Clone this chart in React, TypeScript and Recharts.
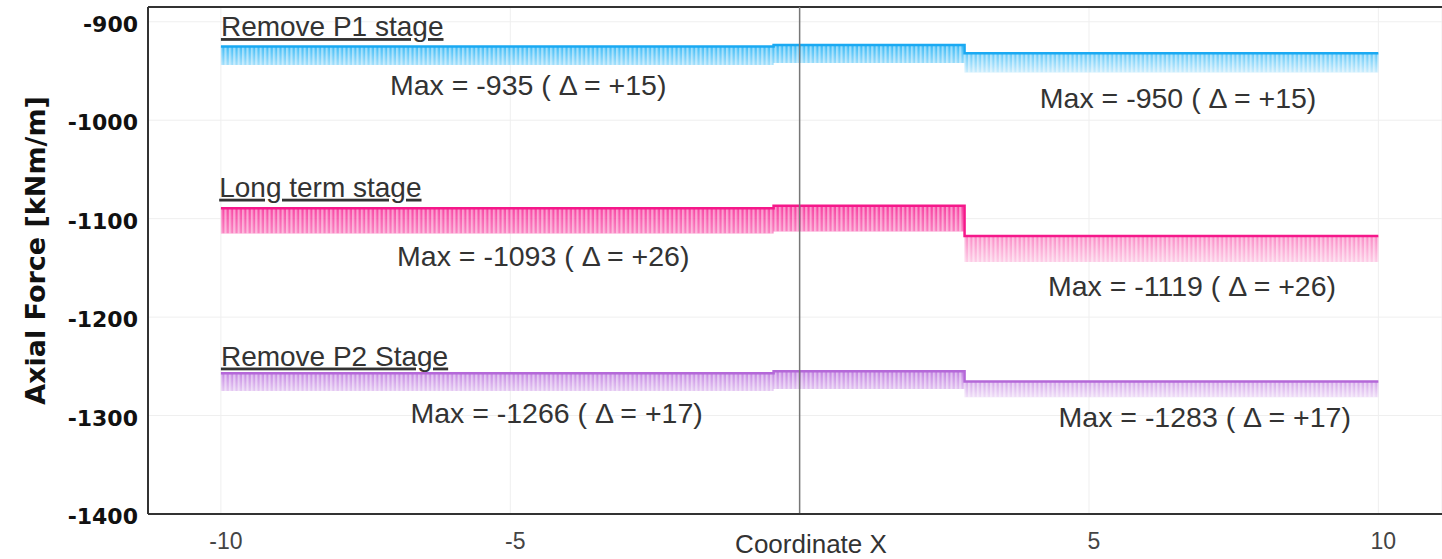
import React from 'react';
import {
  ComposedChart,
  Area,
  Line,
  XAxis,
  YAxis,
  CartesianGrid,
  ReferenceLine,
  ReferenceDot,
} from 'recharts';

// Step break points along the wall (Coordinate X)
const xBreaks = [-10, -0.45, 2.85, 10];

// Band top / bottom per segment (last value repeats for the step end)
const p1Top = [-925, -923.5, -932, -932];
const p1Bottom = [-944, -942, -951.5, -951.5];
const ltTop = [-1089.5, -1087, -1117.5, -1117.5];
const ltBottom = [-1115, -1113, -1144, -1144];
const p2Top = [-1257, -1255, -1265.5, -1265.5];
const p2Bottom = [-1275, -1273, -1281.5, -1281.5];

const stageNames = ['Remove P1 stage', 'Long term stage', 'Remove P2 Stage'];
const stageNameX = [-10, -10.03, -10];
const stageNameY = [-914.5, -1077.7, -1249.2];

const maxTexts = [
  'Max = -935 ( Δ = +15)',
  'Max = -950 ( Δ = +15)',
  'Max = -1093 ( Δ = +26)',
  'Max = -1119 ( Δ = +26)',
  'Max = -1266 ( Δ = +17)',
  'Max = -1283 ( Δ = +17)',
];
const maxTextX = [-4.69, 6.54, -4.43, 6.78, -4.2, 7.0];
const maxTextY = [-974.4, -987.6, -1148.1, -1178.6, -1307.6, -1311.7];

const xTicks = [-10, -5, 5, 10];
const yTicks = [-1400, -1300, -1200, -1100, -1000, -900];
const xDomain = [-11.26, 11.1];
const yDomain = [-1400, -885];

const chartData = xBreaks.map((x, i) => ({
  x,
  p1: [p1Bottom[i], p1Top[i]],
  p1Top: p1Top[i],
  lt: [ltBottom[i], ltTop[i]],
  ltTop: ltTop[i],
  p2: [p2Bottom[i], p2Top[i]],
  p2Top: p2Top[i],
}));

const series = [
  { key: 'p1', stroke: '#1aa9f2', fill: '#2db6f6', grad: 'gradP1' },
  { key: 'lt', stroke: '#f5188a', fill: '#f7369c', grad: 'gradLT' },
  { key: 'p2', stroke: '#b468d8', fill: '#c07ce0', grad: 'gradP2' },
];

const textFont = "'Liberation Sans', Arial, sans-serif";
const boldFont = "'DejaVu Sans', sans-serif";

const XTick = ({ x, y, payload }: any) => (
  <text
    x={x + 5}
    y={y + 21}
    textAnchor="middle"
    dominantBaseline="middle"
    fontFamily={textFont}
    fontSize={23}
    fill="#444"
  >
    {payload.value}
  </text>
);

const YTick = ({ x, y, payload }: any) => (
  <text
    x={x - 2}
    y={y + 4}
    textAnchor="end"
    dominantBaseline="middle"
    fontFamily={boldFont}
    fontWeight="bold"
    fontSize={22}
    fill="#111"
  >
    {payload.value}
  </text>
);

export default function App() {
  return (
    <div style={{ position: 'absolute', left: 0, top: 0, width: 1442, height: 559, background: '#fff' }}>
      <ComposedChart
        width={1442}
        height={559}
        data={chartData}
        margin={{ top: 7, right: 0, bottom: 0, left: 0 }}
      >
        <defs>
          {series.map((s) => (
            <linearGradient key={s.grad} id={s.grad} x1="0" y1="0" x2="0" y2="1">
              <stop offset="0%" stopColor={s.fill} stopOpacity={0.95} />
              <stop offset="100%" stopColor={s.fill} stopOpacity={0.25} />
            </linearGradient>
          ))}
          <pattern id="hatch" patternUnits="userSpaceOnUse" width={4.4} height={6}>
            <rect x={0} y={0} width={2.2} height={6} fill="#fff" fillOpacity={0.45} />
          </pattern>
        </defs>
        <CartesianGrid stroke="#efefef" strokeWidth={1} />
        <XAxis
          dataKey="x"
          type="number"
          domain={xDomain}
          ticks={xTicks}
          allowDataOverflow
          height={45}
          axisLine={{ stroke: '#333', strokeWidth: 2 }}
          tickLine={false}
          tick={<XTick />}
          label={{
            value: 'Coordinate X',
            position: 'insideBottom',
            dx: 16,
            offset: 6,
            style: { fontFamily: textFont, fontSize: 26, fill: '#333' },
          }}
        />
        <YAxis
          type="number"
          domain={yDomain}
          ticks={yTicks}
          allowDataOverflow
          width={148}
          axisLine={{ stroke: '#333', strokeWidth: 2 }}
          tickLine={false}
          tick={<YTick />}
          label={{
            value: 'Axial Force [kNm/m]',
            angle: -90,
            position: 'insideLeft',
            dx: 30,
            dy: -10,
            style: {
              fontFamily: boldFont,
              fontWeight: 'bold',
              fontSize: 27,
              fill: '#111',
              textAnchor: 'middle',
            },
          }}
        />
        <ReferenceLine y={yDomain[1]} stroke="#333" strokeWidth={2} ifOverflow="visible" />

        {series.map((s) => (
          <Area
            key={s.key + 'fill'}
            dataKey={s.key}
            type="stepAfter"
            stroke="none"
            fill={`url(#${s.grad})`}
            fillOpacity={1}
            isAnimationActive={false}
            activeDot={false}
          />
        ))}
        {series.map((s) => (
          <Area
            key={s.key + 'hatch'}
            dataKey={s.key}
            type="stepAfter"
            stroke="none"
            fill="url(#hatch)"
            fillOpacity={1}
            isAnimationActive={false}
            activeDot={false}
          />
        ))}
        {series.map((s) => (
          <Line
            key={s.key + 'top'}
            dataKey={s.key + 'Top'}
            type="stepAfter"
            stroke={s.stroke}
            strokeWidth={2.5}
            dot={false}
            activeDot={false}
            isAnimationActive={false}
          />
        ))}

        <ReferenceLine x={0} stroke="#777" strokeWidth={1.5} />

        {stageNames.map((name, i) => (
          <ReferenceDot
            key={name}
            x={stageNameX[i]}
            y={stageNameY[i]}
            r={0}
            shape={(p: any) => (
              <text
                x={p.cx}
                y={p.cy}
                textAnchor="start"
                fontFamily={textFont}
                fontSize={28}
                fill="#333"
                textDecoration="underline"
              >
                {name}
              </text>
            )}
          />
        ))}
        {maxTexts.map((t, i) => (
          <ReferenceDot
            key={t}
            x={maxTextX[i]}
            y={maxTextY[i]}
            r={0}
            shape={(p: any) => (
              <text
                x={p.cx}
                y={p.cy}
                textAnchor="middle"
                fontFamily={textFont}
                fontSize={28.5}
                fill="#333"
              >
                {t}
              </text>
            )}
          />
        ))}
      </ComposedChart>
    </div>
  );
}
